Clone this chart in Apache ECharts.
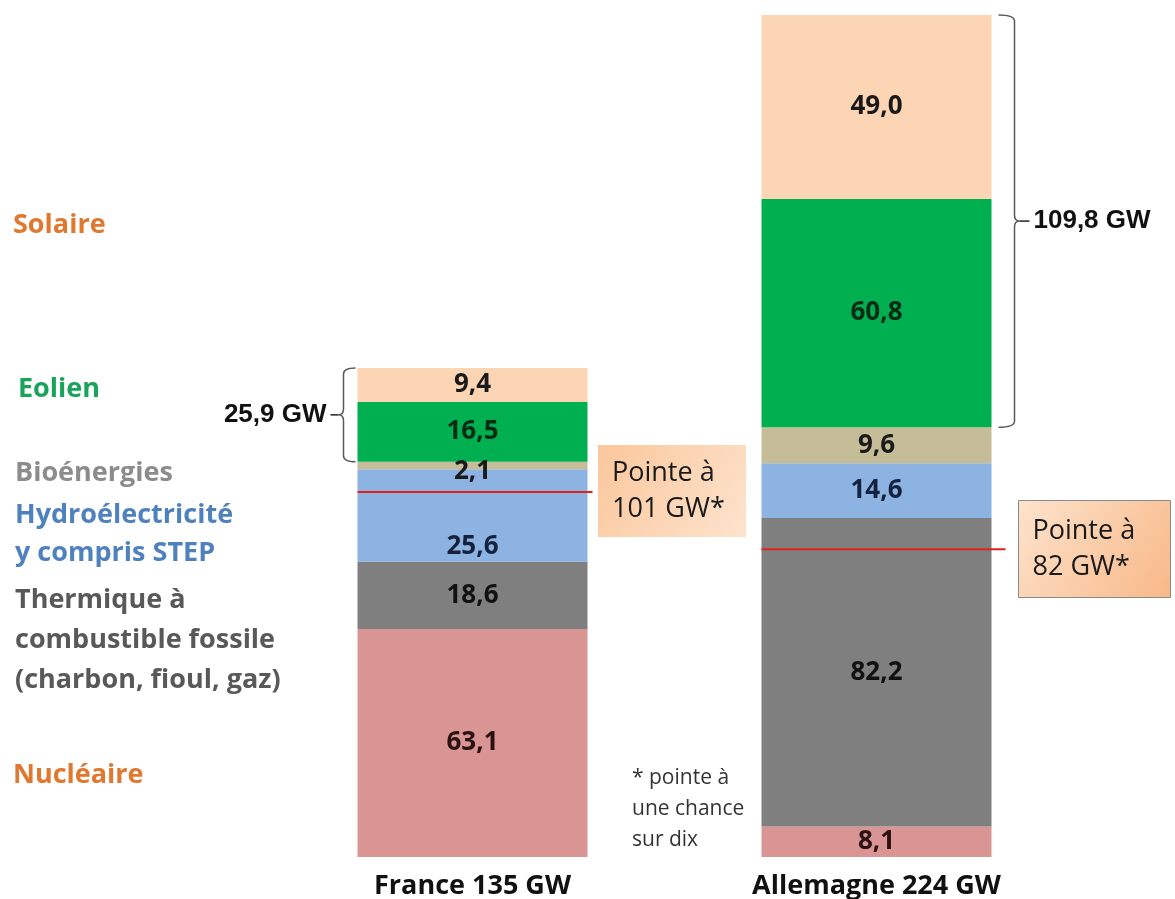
<!DOCTYPE html>
<html>
<head>
<meta charset="utf-8">
<script src="https://cdn.jsdelivr.net/npm/echarts@6/dist/echarts.min.js"></script>
<style>
  html, body { margin: 0; padding: 0; background: #fff; }
  #chart { width: 1175px; height: 899px; }
</style>
</head>
<body>
<div id="chart"></div>
<script>
// données (GW)
const countries = ['France 135 GW', 'Allemagne 224 GW'];
const sources = ['Nucléaire', 'Thermique', 'Hydroélectricité', 'Bioénergies', 'Eolien', 'Solaire'];
const france = [63.1, 18.6, 25.6, 2.1, 16.5, 9.4];
const allemagne = [8.1, 82.2, 14.6, 9.6, 60.8, 49.0];
const peaks = [101, 82];           // pointe à une chance sur dix
const bracketed = [4, 5];          // Eolien + Solaire

// libellés de gauche
const legendLines = [
  ['Solaire'],
  ['Eolien'],
  ['Bioénergies'],
  ['Hydroélectricité', 'y compris STEP'],
  ['Thermique à', 'combustible fossile', '(charbon, fioul, gaz)'],
  ['Nucléaire']
];

const FONT = '"Open Sans", sans-serif';
const BAR_W = 230;
const fillColors = ['#d99594', '#7f7f7f', '#8db3e2', '#c4bd97', '#00b050', '#fcd5b4'];
const labelColors = ['#2b1212', '#111111', '#15223d', '#1a1a1a', '#0b2a14', '#1a1a1a'];
const legendColors = ['#e0782f', '#1aa35b', '#8c8c8c', '#4f81bd', '#595959', '#e0782f'];
const legendPos = [[13, 225, 40], [18, 389, 40], [15, 473, 40], [15, 534, 38], [15, 640, 40], [13, 775, 40]];

const sum = a => a.reduce((s, v) => s + v, 0);
const fmt = v => v.toFixed(1).replace('.', ',');

const chart = echarts.init(document.getElementById('chart'));

// France est dessinée à une échelle légèrement différente dans l'original
const series = [];
sources.forEach((name, i) => {
  series.push({
    name: name + ' FR',
    type: 'bar',
    stack: 'fr',
    yAxisIndex: 1,
    barWidth: BAR_W,
    barGap: '-100%',
    itemStyle: { color: fillColors[i] },
    label: {
      show: true,
      position: 'inside',
      fontFamily: FONT,
      fontWeight: 'bold',
      fontSize: 26,
      color: labelColors[i],
      offset: i === 2 ? [0, 31] : (i === 3 ? [0, 6] : [0, 0]),
      formatter: p => fmt(p.value)
    },
    data: [france[i], '-']
  });
  series.push({
    name: name + ' DE',
    type: 'bar',
    stack: 'de',
    yAxisIndex: 0,
    barWidth: BAR_W,
    barGap: '-100%',
    itemStyle: { color: fillColors[i] },
    label: {
      show: true,
      position: 'inside',
      fontFamily: FONT,
      fontWeight: 'bold',
      fontSize: 26,
      color: labelColors[i],
      formatter: p => fmt(p.value)
    },
    data: ['-', allemagne[i]]
  });
});

// lignes de pointe
function peakLine(params, api) {
  const p = api.coord([api.value(0), api.value(1)]);
  const ext = api.value(0) === 0 ? 5 : 14;
  return {
    type: 'line',
    shape: { x1: p[0] - BAR_W / 2, y1: p[1], x2: p[0] + BAR_W / 2 + ext, y2: p[1] },
    style: { stroke: '#e3211c', lineWidth: 2 }
  };
}
series.push({ type: 'custom', yAxisIndex: 1, renderItem: peakLine, data: [[0, peaks[0]]], z: 5 });
series.push({ type: 'custom', yAxisIndex: 0, renderItem: peakLine, data: [[1, peaks[1]]], z: 5 });

// accolades éolien + solaire
function brace(params, api) {
  const cat = api.value(0);
  const pb = api.coord([cat, api.value(1)]);
  const pt = api.coord([cat, api.value(2)]);
  const total = api.value(2) - api.value(1);
  const top = pt[1], bot = pb[1], mid = (top + bot) / 2, r = 6;
  const right = cat === 1;
  const d = right ? 1 : -1;
  const x0 = right ? pt[0] + BAR_W / 2 + 7 : pt[0] - BAR_W / 2 - 2;
  const x1 = x0 + d * (right ? 16 : 12);
  const x2 = x1 + d * 5;
  const path = `M${x0},${top} Q${x1},${top} ${x1},${top + r} L${x1},${mid - r} Q${x1},${mid} ${x2},${mid} ` +
    `Q${x1},${mid} ${x1},${mid + r} L${x1},${bot - r} Q${x1},${bot} ${x0},${bot}`;
  const xd = x2 + d * (right ? 10 : 8);
  return {
    type: 'group',
    children: [
      { type: 'path', shape: { pathData: path }, style: { stroke: '#595959', lineWidth: 1.5, fill: null } },
      { type: 'line', shape: { x1: x2, y1: mid, x2: xd, y2: mid }, style: { stroke: '#222', lineWidth: 1.5 } },
      {
        type: 'text',
        x: xd + d * 4, y: mid,
        style: {
          text: fmt(total) + ' GW',
          fontFamily: '"Liberation Sans", Arial, sans-serif',
          fontWeight: 'bold',
          fontSize: 26,
          fill: '#111',
          align: right ? 'left' : 'right',
          verticalAlign: 'middle'
        }
      }
    ]
  };
}
const frBase = sum(france.slice(0, bracketed[0]));
const deBase = sum(allemagne.slice(0, bracketed[0]));
series.push({ type: 'custom', yAxisIndex: 1, renderItem: brace,
  data: [[0, frBase, frBase + sum(bracketed.map(i => france[i]))]], z: 5 });
series.push({ type: 'custom', yAxisIndex: 0, renderItem: brace,
  data: [[1, deBase, deBase + sum(bracketed.map(i => allemagne[i]))]], z: 5 });

// légende à gauche
const graphic = legendLines.map((lines, i) => ({
  type: 'text',
  left: legendPos[i][0],
  top: legendPos[i][1] - lines.length * legendPos[i][2] / 2,
  style: {
    text: lines.join('\n'),
    fontFamily: FONT,
    fontWeight: 'bold',
    fontSize: 27,
    lineHeight: legendPos[i][2],
    fill: legendColors[i]
  }
}));

// encadrés de pointe
function peakBox(x, y, w, h, val, border, grad) {
  return {
    type: 'group',
    left: x, top: y,
    children: [
      {
        type: 'rect',
        shape: { width: w, height: h },
        style: {
          fill: new echarts.graphic.LinearGradient(0, 0, 1, 1, grad),
          stroke: border,
          lineWidth: border ? 1 : 0
        }
      },
      {
        type: 'text',
        x: 14, y: h / 2,
        style: {
          text: 'Pointe à\n' + val + ' GW*',
          fontFamily: FONT,
          fontSize: 27,
          lineHeight: 36,
          fill: '#1a1a1a',
          verticalAlign: 'middle'
        }
      }
    ]
  };
}
graphic.push(peakBox(598, 445, 148, 92, peaks[0], null,
  [{ offset: 0, color: '#fbc79c' }, { offset: 1, color: '#fde3cd' }]));
graphic.push(peakBox(1018, 500, 152, 97, peaks[1], '#8a8a8a',
  [{ offset: 0, color: '#fde3cd' }, { offset: 1, color: '#f8b887' }]));

graphic.push({
  type: 'text',
  left: 632, top: 763,
  style: {
    text: '* pointe à\nune chance\nsur dix',
    fontFamily: FONT,
    fontSize: 21,
    lineHeight: 31,
    fill: '#333'
  }
});

chart.setOption({
  animation: false,
  grid: { left: 270.5, right: 96.5, top: 15, bottom: 42, outerBoundsMode: 'none' },
  xAxis: {
    type: 'category',
    data: countries,
    axisLine: { show: false },
    axisTick: { show: false },
    axisLabel: {
      margin: 16,
      fontFamily: FONT,
      fontWeight: 'bold',
      fontSize: 27,
      color: '#111'
    }
  },
  yAxis: [
    { type: 'value', min: 0, max: 224.3, show: false, splitLine: { show: false } },
    { type: 'value', min: 0, max: 233, show: false, splitLine: { show: false } }
  ],
  graphic: graphic,
  series: series
});
</script>
</body>
</html>
